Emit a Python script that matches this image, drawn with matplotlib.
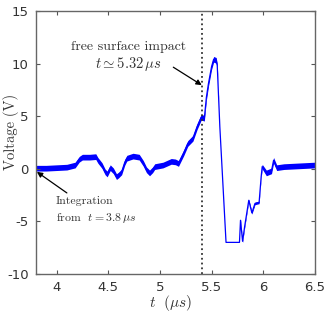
import numpy as np
import matplotlib
matplotlib.use('Agg')
import matplotlib.pyplot as plt

plt.rcParams['mathtext.fontset'] = 'cm'
plt.rcParams['axes.unicode_minus'] = False

# signal: time (us), voltage (V), noise half width (V)
t_us = [3.80, 3.90, 4.00, 4.10, 4.18, 4.22, 4.25, 4.32, 4.38, 4.40,
        4.44, 4.47, 4.49, 4.52, 4.55, 4.58, 4.60, 4.63, 4.66, 4.68,
        4.74, 4.80, 4.84, 4.87, 4.90, 4.93, 4.95, 5.03, 5.11, 5.15,
        5.18, 5.23, 5.27, 5.32, 5.36, 5.40, 5.43, 5.45, 5.47, 5.50,
        5.52, 5.545, 5.555, 5.58, 5.64, 5.77, 5.78, 5.80, 5.82, 5.86,
        5.89, 5.92, 5.96, 5.98, 5.99, 6.03, 6.08, 6.10, 6.13, 6.20,
        6.30, 6.40, 6.50]
volt = [0.05, 0.05, 0.10, 0.15, 0.35, 0.90, 1.10, 1.10, 1.15, 0.80,
        0.30, -0.30, -0.50, 0.10, -0.20, -0.75, -0.60, -0.30, 0.60, 1.00,
        1.20, 1.10, 0.50, -0.10, -0.40, -0.10, 0.20, 0.35, 0.70, 0.65,
        0.50, 1.50, 2.40, 2.90, 4.00, 4.90, 4.80, 6.80, 8.10, 9.70,
        10.40, 10.30, 9.80, 4.00, -7.00, -7.00, -4.90, -6.90, -5.50, -3.00,
        -4.20, -3.30, -3.20, -0.75, 0.20, -0.40, -0.20, 0.80, 0.10, 0.20,
        0.25, 0.30, 0.35]
noise = [0.27, 0.27, 0.27, 0.27, 0.27, 0.27, 0.27, 0.27, 0.27, 0.27,
         0.27, 0.27, 0.27, 0.27, 0.27, 0.27, 0.27, 0.27, 0.27, 0.27,
         0.27, 0.27, 0.27, 0.27, 0.27, 0.27, 0.27, 0.27, 0.27, 0.27,
         0.27, 0.27, 0.27, 0.27, 0.27, 0.27, 0.27, 0.27, 0.27, 0.27,
         0.27, 0.27, 0.20, 0.00, 0.00, 0.00, 0.12, 0.12, 0.12, 0.12,
         0.12, 0.12, 0.12, 0.12, 0.22, 0.27, 0.27, 0.27, 0.27, 0.27,
         0.27, 0.27, 0.27]

impact_t = 5.41
x_ticks = [4, 4.5, 5, 5.5, 6, 6.5]
x_ticklabels = ['4', '4.5', '5', '5.5', '6', '6.5']
y_ticks = [-10, -5, 0, 5, 10, 15]
y_ticklabels = ['-10', '-5', '0', '5', '10', '15']

t_arr = np.array(t_us)
v_arr = np.array(volt)
n_arr = np.array(noise)

fig = plt.figure(figsize=(3.26, 3.12), dpi=100)
ax = fig.add_axes([0.110, 0.122, 0.856, 0.843])

ax.fill_between(t_arr, v_arr - n_arr, v_arr + n_arr, color='#0000ff', lw=0)
ax.plot(t_arr, v_arr, color='#0000ff', lw=0.9)
ax.axvline(impact_t, color='#333333', ls=':', lw=1.3)

ax.set_xlim(3.8, 6.5)
ax.set_ylim(-10, 15)
ax.set_xticks(x_ticks)
ax.set_xticklabels(x_ticklabels)
ax.set_yticks(y_ticks)
ax.set_yticklabels(y_ticklabels)
ax.tick_params(direction='in', length=3, width=0.8, color='#555555',
               labelcolor='#333333', labelsize=9.5, top=True, right=True, pad=5)
for s in ax.spines.values():
    s.set_color('#666666')
    s.set_linewidth(1.0)

ax.set_xlabel(r'$t\ \ (\mu s)$', fontsize=11, color='#333333')
ax.xaxis.set_label_coords(0.484, -0.072)
ax.set_ylabel('Voltage (V)', fontsize=10.5, family='cmr10', color='#333333')
ax.yaxis.set_label_coords(-0.062, 0.54)

# annotations
ax.annotate('', xy=(5.405, 7.95), xytext=(5.13, 9.65),
            arrowprops=dict(arrowstyle='-|>', color='black', lw=0.9,
                            mutation_scale=8, shrinkA=0, shrinkB=0))
ax.text(4.698, 11.6, 'free surface impact', family='cmr10', fontsize=10,
        ha='center', va='center', color='#333333')
ax.text(4.698, 10.0, r'$t \simeq 5.32\,\mu s$', fontsize=10.5,
        ha='center', va='center', color='#333333')

ax.annotate('', xy=(3.81, -0.3), xytext=(4.1, -2.3),
            arrowprops=dict(arrowstyle='-|>', color='black', lw=0.9,
                            mutation_scale=8, shrinkA=0, shrinkB=0))
ax.text(3.995, -3.05, 'Integration', family='cmr10', fontsize=8.5,
        ha='left', va='center', color='#333333')
ax.text(3.995, -4.7, r'from  $t = 3.8\,\mu s$', family='cmr10', fontsize=8.5,
        ha='left', va='center', color='#333333')

fig.savefig('out.png', dpi=100)
